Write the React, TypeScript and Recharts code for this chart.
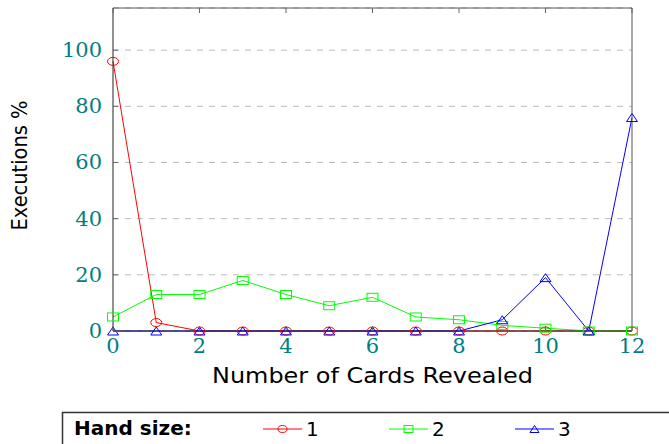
import React from "react";
import { LineChart, Line, XAxis, YAxis, CartesianGrid } from "recharts";

// number of cards revealed
const cardsRevealed = [0, 1, 2, 3, 4, 5, 6, 7, 8, 9, 10, 11, 12];
// executions % per hand size
const hand1 = [96, 3, 0, 0, 0, 0, 0, 0, 0, 0, 0, 0, 0];
const hand2 = [5, 13, 13, 18, 13, 9, 12, 5, 4, 2, 1, 0, 0];
const hand3 = [0, 0, 0, 0, 0, 0, 0, 0, 0, 4, 19, 0, 76];

const xTicks = [0, 2, 4, 6, 8, 10, 12];
const yTicks = [0, 20, 40, 60, 80, 100];

const series = [
  { key: "h1", name: "1", color: "#ff0000", marker: "circle" },
  { key: "h2", name: "2", color: "#00ff00", marker: "square" },
  { key: "h3", name: "3", color: "#0000ff", marker: "triangle" },
];

const data = cardsRevealed.map((x, i) => ({
  x,
  h1: hand1[i],
  h2: hand2[i],
  h3: hand3[i],
}));

const TEAL = "#008080";
const TICK = "#666";
const SERIF = "'DejaVu Serif', serif";
const SANS = "'DejaVu Sans', sans-serif";

function Marker({ type, cx, cy, color, w, h }: any) {
  if (type === "circle")
    return <ellipse cx={cx} cy={cy} rx={w / 2} ry={h / 2} fill="none" stroke={color} strokeWidth={1} />;
  if (type === "square")
    return <rect x={cx - w / 2} y={cy - h / 2} width={w} height={h} fill="none" stroke={color} strokeWidth={1} />;
  return (
    <polygon
      points={`${cx - w / 2},${cy + h / 2} ${cx + w / 2},${cy + h / 2} ${cx},${cy - h / 2}`}
      fill="none"
      stroke={color}
      strokeWidth={1}
    />
  );
}

const BottomTick = ({ x, y, payload }: any) => (
  <g>
    <line x1={x} x2={x} y1={y} y2={y - 5} stroke={TICK} />
    <text x={x} y={y + 22} textAnchor="middle" fill={TEAL} fontFamily={SERIF} fontSize={21}>
      {payload.value}
    </text>
  </g>
);

const TopTick = ({ x, y }: any) => <line x1={x} x2={x} y1={y} y2={y + 5} stroke={TICK} />;

const LeftTick = ({ x, y, payload }: any) => (
  <g>
    <line x1={x} x2={x + 5} y1={y} y2={y} stroke={TICK} />
    <text x={x - 11} y={y + 7} textAnchor="end" fill={TEAL} fontFamily={SERIF} fontSize={21}>
      {payload.value}
    </text>
  </g>
);

const RightTick = ({ x, y }: any) => <line x1={x} x2={x - 5} y1={y} y2={y} stroke={TICK} />;

function Legend() {
  const starts = [263, 389, 515];
  return (
    <svg width={669} height={444} style={{ position: "absolute", left: 0, top: 0, pointerEvents: "none" }}>
      <rect x={62.5} y={412.5} width={700} height={60} fill="none" stroke="#333" strokeWidth={1.5} />
      <text x={74} y={435} fontFamily={SANS} fontWeight="bold" fontSize={20} fill="#000">
        Hand size:
      </text>
      {series.map((s, i) => (
        <g key={s.key}>
          <line x1={starts[i]} x2={starts[i] + 39} y1={429} y2={429} stroke={s.color} />
          <Marker type={s.marker} cx={starts[i] + 19.5} cy={429} color={s.color} w={9} h={7} />
          <text x={starts[i] + 43} y={436} fontFamily={SANS} fontSize={20} fill="#000">
            {s.name}
          </text>
        </g>
      ))}
    </svg>
  );
}

export default function App() {
  return (
    <div style={{ position: "absolute", left: 0, top: 0, width: 669, height: 444, overflow: "hidden", background: "#fff" }}>
      <LineChart width={669} height={444} data={data} margin={{ top: 0, right: 0, bottom: 0, left: 0 }}>
        <CartesianGrid vertical={false} stroke="#bbb" strokeDasharray="6 6" />
        <XAxis
          dataKey="x"
          type="number"
          domain={[0, 12]}
          ticks={xTicks}
          interval={0}
          height={113}
          tickSize={0}
          tickMargin={0}
          tickLine={false}
          axisLine={{ stroke: "#222" }}
          tick={<BottomTick />}
          label={(p: any) => {
            const vb = p.viewBox;
            return (
              <text
                x={vb.x + vb.width / 2}
                y={vb.y + 52}
                textAnchor="middle"
                fontFamily={SANS}
                fontSize={21}
                textLength={321}
                lengthAdjust="spacingAndGlyphs"
                fill="#000"
              >
                Number of Cards Revealed
              </text>
            );
          }}
        />
        <XAxis
          xAxisId="top"
          orientation="top"
          dataKey="x"
          type="number"
          domain={[0, 12]}
          ticks={xTicks}
          interval={0}
          height={8}
          tickSize={0}
          tickMargin={0}
          tickLine={false}
          axisLine={{ stroke: "#555" }}
          tick={<TopTick />}
        />
        <YAxis
          type="number"
          domain={[0, 115]}
          ticks={yTicks}
          interval={0}
          width={113}
          tickSize={0}
          tickMargin={0}
          tickLine={false}
          axisLine={{ stroke: "#222" }}
          tick={<LeftTick />}
          label={(p: any) => {
            const vb = p.viewBox;
            const cx = 20;
            const cy = vb.y + vb.height / 2 - 4;
            return (
              <text
                x={cx}
                y={cy}
                transform={`rotate(-90 ${cx} ${cy})`}
                textAnchor="middle"
                dominantBaseline="central"
                fontFamily={SANS}
                fontSize={21}
                textLength={130}
                lengthAdjust="spacingAndGlyphs"
                fill="#000"
              >
                Executions %
              </text>
            );
          }}
        />
        <YAxis
          yAxisId="right"
          orientation="right"
          type="number"
          domain={[0, 115]}
          ticks={yTicks}
          interval={0}
          width={37}
          tickSize={0}
          tickMargin={0}
          tickLine={false}
          axisLine={{ stroke: "#555" }}
          tick={<RightTick />}
        />
        {series.map((s) => (
          <Line
            key={s.key}
            dataKey={s.key}
            name={s.name}
            stroke={s.color}
            strokeWidth={1}
            isAnimationActive={false}
            dot={(p: any) => (
              <Marker key={`${s.key}-${p.index}`} type={s.marker} cx={p.cx} cy={p.cy} color={s.color} w={11} h={8} />
            )}
            activeDot={false}
          />
        ))}
      </LineChart>
      <Legend />
    </div>
  );
}
